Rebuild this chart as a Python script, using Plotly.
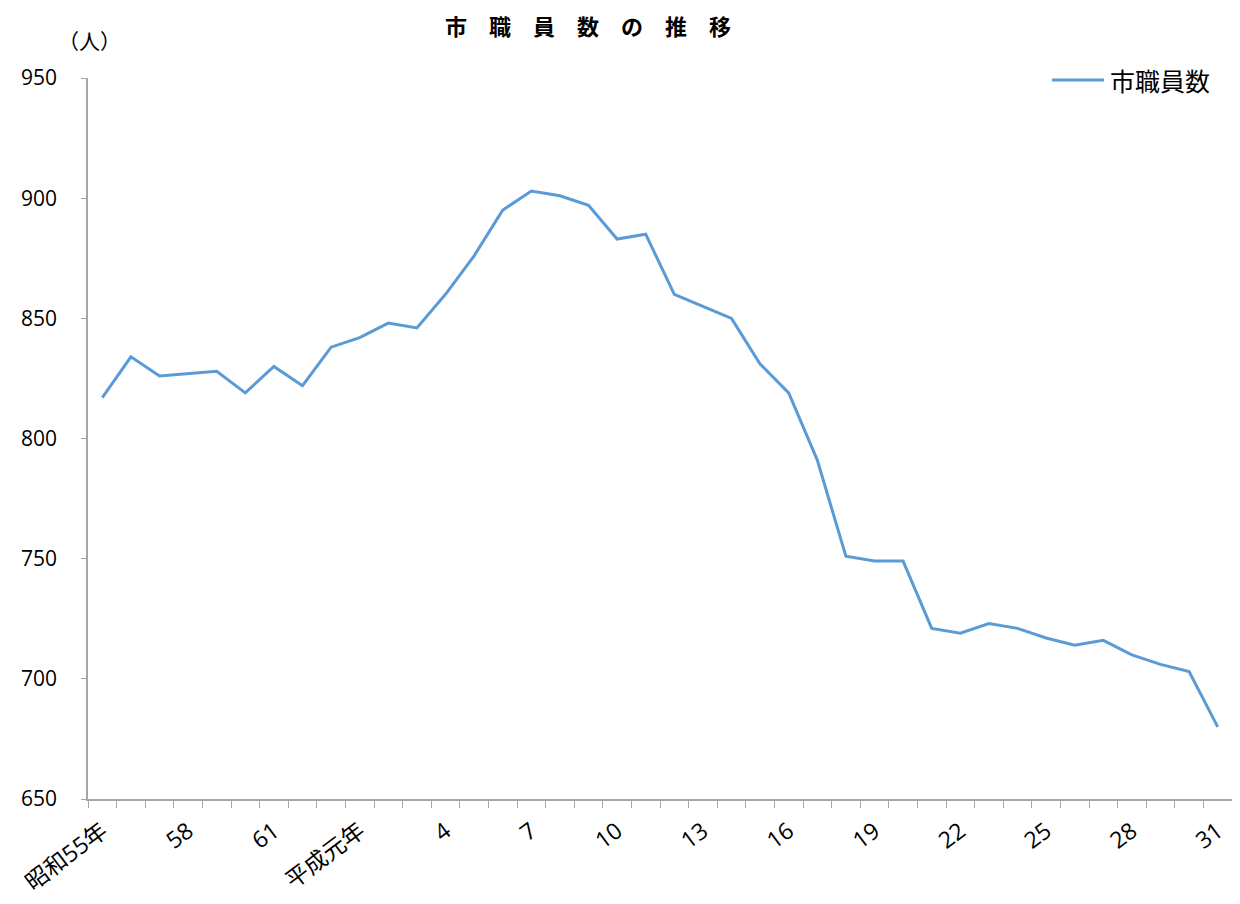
import plotly.graph_objects as go

years = ["昭和55年", "56", "57", "58", "59", "60", "61", "62", "63",
         "平成元年"] + [str(i) for i in range(2, 32)]
staff = [817, 834, 826, 827, 828, 819, 830, 822, 838, 842,
         848, 846, 860, 876, 895, 903, 901, 897, 883, 885,
         860, 855, 850, 831, 819, 791, 751, 749, 749, 721,
         719, 723, 721, 717, 714, 716, 710, 706, 703, 680]
shown_labels = {"昭和55年", "58", "61", "平成元年", "4", "7", "10", "13",
                "16", "19", "22", "25", "28", "31"}
y_ticks = [650, 700, 750, 800, 850, 900, 950]
series_name = "市職員数"
line_color = "#5B9BD5"

ticktext = [y if y in shown_labels else "" for y in years]

font_family = "Open Sans, Noto Sans CJK JP, sans-serif"
cjk = "Noto Sans CJK JP"

fig = go.Figure()
fig.add_trace(go.Scatter(
    x=years, y=staff, mode="lines", name=series_name,
    line=dict(color=line_color, width=3), showlegend=False,
))

fig.update_layout(
    width=1232, height=896,
    margin=dict(l=80, r=8, t=70, b=105, autoexpand=False),
    paper_bgcolor="white", plot_bgcolor="white",
    font=dict(family=font_family, color="black"),
    showlegend=False,
    title=dict(text="<b>市\u3000職\u3000員\u3000数\u3000の\u3000推\u3000移</b>",
               x=0.4708, xanchor="center",
               y=0.978, yanchor="middle",
               font=dict(size=22, family=cjk, color="black")),
    annotations=[
        dict(text="（人）", xref="paper", yref="paper",
             x=-0.028, y=1.053, xanchor="left", yanchor="middle",
             showarrow=False, font=dict(size=21, family=cjk)),
        dict(text=series_name, xref="paper", yref="paper",
             x=0.8915, y=0.9972, xanchor="left", yanchor="middle",
             showarrow=False, font=dict(size=25, family=cjk)),
    ],
    shapes=[dict(type="line", xref="paper", yref="paper",
                 x0=0.8427, x1=0.8881, y0=0.9972, y1=0.9972,
                 line=dict(color=line_color, width=3))],
)

fig.update_xaxes(
    type="category", categoryorder="array", categoryarray=years,
    range=[-0.5, len(years) - 0.5], automargin=False,
    tickmode="array", tickvals=years, ticktext=ticktext,
    tickson="boundaries", ticks="outside", ticklen=7, tickcolor="#A6A6A6",
    showline=True, linecolor="#A6A6A6", linewidth=1.5,
    showgrid=False, zeroline=False, tickangle=-37,
    tickfont=dict(size=23, family=font_family),
    ticklabelstandoff=8,
)
fig.update_yaxes(
    range=[650, 950], automargin=False, tickmode="array", tickvals=y_ticks,
    ticks="outside", ticklen=5, tickcolor="#A6A6A6",
    showline=True, linecolor="#A6A6A6", linewidth=1.5,
    showgrid=False, zeroline=False,
    tickfont=dict(size=21, family=font_family),
    ticklabelstandoff=20,
)

fig.write_html("out.html")
